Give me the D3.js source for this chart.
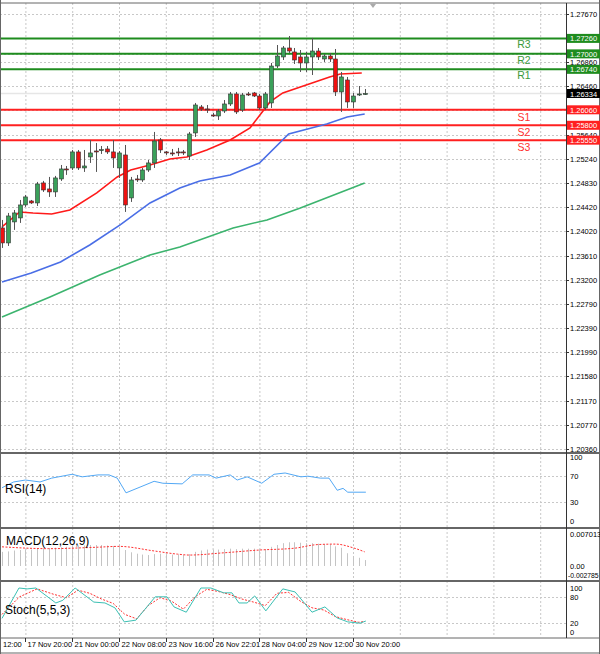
<!DOCTYPE html>
<html><head><meta charset="utf-8">
<script src="https://cdn.jsdelivr.net/npm/d3@7"></script>
<style>body{margin:0;background:#fff}svg{display:block;font-family:"Liberation Sans",Arial,sans-serif}</style>
</head><body><svg id="c" width="600" height="654"></svg>
<script>
// ---- DATA ----
const opens  = [1.24075,1.23823,1.24176,1.24243,1.24461,1.24528,1.24495,1.24831,1.24730,1.24680,1.24898,1.25066,1.25083,1.25352,1.25083,1.25268,1.25368,1.25385,1.25402,1.25352,1.25083,1.25301,1.24579,1.24898,1.24881,1.25049,1.25167,1.25553,1.25352,1.25335,1.25352,1.25352,1.25284,1.25671,1.26108,1.26074,1.25973,1.25956,1.26040,1.26158,1.26326,1.26057,1.26326,1.26343,1.26292,1.26091,1.26175,1.26796,1.26948,1.27099,1.27032,1.26948,1.26847,1.26948,1.27048,1.26914,1.26964,1.26914,1.26360,1.26561,1.26192,1.26309,1.26326];
const closes = [1.23823,1.24276,1.24327,1.24461,1.24596,1.24495,1.24814,1.24713,1.24680,1.24915,1.25066,1.25049,1.25352,1.25083,1.25116,1.25335,1.25360,1.25390,1.25352,1.25251,1.25335,1.24461,1.24881,1.24890,1.25049,1.25167,1.25536,1.25385,1.25335,1.25330,1.25345,1.25335,1.25654,1.26141,1.26074,1.26070,1.25956,1.26040,1.26158,1.26326,1.26024,1.26309,1.26320,1.26292,1.26091,1.26326,1.26796,1.26964,1.27099,1.27048,1.26897,1.26847,1.26948,1.27048,1.26948,1.26964,1.26914,1.26360,1.26612,1.26192,1.26292,1.26326,1.26334];
const highs  = [1.24209,1.24327,1.24377,1.24545,1.24629,1.24545,1.24848,1.24865,1.24932,1.24949,1.25133,1.25116,1.25385,1.25385,1.25385,1.25553,1.25502,1.25452,1.25452,1.25553,1.25368,1.25469,1.24932,1.24965,1.25083,1.25217,1.25688,1.25587,1.25368,1.25402,1.25420,1.25385,1.25688,1.26175,1.26141,1.26141,1.26007,1.26074,1.26225,1.26360,1.26360,1.26343,1.26360,1.26360,1.26326,1.26360,1.26847,1.27149,1.27132,1.27300,1.27099,1.27065,1.27032,1.27267,1.27099,1.26998,1.27015,1.27082,1.26696,1.26612,1.26343,1.26460,1.26410];
const lows   = [1.23739,1.23772,1.24042,1.24159,1.24428,1.24478,1.24444,1.24680,1.24596,1.24596,1.24865,1.24966,1.25049,1.25049,1.25016,1.25167,1.25016,1.25318,1.25318,1.25083,1.24915,1.24344,1.24512,1.24848,1.24848,1.25016,1.25083,1.25335,1.25301,1.25284,1.25284,1.25301,1.25217,1.25604,1.26040,1.26007,1.25940,1.25889,1.26007,1.26124,1.25990,1.26024,1.26292,1.26275,1.26057,1.26057,1.26091,1.26763,1.26897,1.27015,1.26830,1.26696,1.26696,1.26645,1.26897,1.26864,1.26864,1.26292,1.26024,1.26091,1.26091,1.26292,1.26309];
const maFastIdx = [0,3,5.3,8.5,11.6,16.2,19.7,22,25.3,28.7,31.6,35,39,42.4,45.8,48,52,56,57.8,61.5];
const maFast    = [1.24091,1.24343,1.24326,1.24310,1.24377,1.24663,1.24932,1.25049,1.25133,1.25234,1.25268,1.25385,1.25553,1.25755,1.26192,1.26343,1.26477,1.26612,1.26662,1.26679];
const maMidIdx  = [0,5,10,15,20.2,25.3,30.4,33.8,39,44,49,55.5,59,62];
const maMid     = [1.23168,1.23319,1.23504,1.23789,1.24125,1.24495,1.24747,1.24864,1.24965,1.25167,1.25654,1.25822,1.25940,1.25990];
const maSlowIdx = [0,8.2,16.7,25.3,30.4,39.5,45.3,51,62];
const maSlow    = [1.22580,1.22916,1.23285,1.23621,1.23756,1.24075,1.24209,1.24411,1.24831];
const levelNames  = ["R3","R2","R1","S1","S2","S3"];
const levelValues = [1.2726,1.2700,1.2674,1.2606,1.2580,1.2555];
const lastPrice = 1.26334;
const priceTicks = [1.27670,1.26860,1.26460,1.25640,1.25240,1.24830,1.24420,1.24020,1.23610,1.23200,1.22790,1.22390,1.21990,1.21580,1.21170,1.20770,1.20360];
const rsiIdx = [0,2,4,6.5,8.5,12,13.7,16.4,18.3,19.7,21.2,23.6,26,27.5,30.8,32.6,35.4,36.6,39,40.2,41.9,44.4,46.5,48.4,51.1,52.3,54.4,55.9,57.3,58.3,59.1,62.2];
const rsiVals = [52,61,64,61,67,73,69,72,72,67,44,53,62,59,58,72,72,67,72,64,69,59,73,75,69,70,67,67,48,51,45,45];
const macdHist = [0.0031,0.0032,0.0034,0.0035,0.0036,0.0036,0.0038,0.0039,0.0039,0.0040,0.0041,0.0042,0.0044,0.0045,0.0045,0.0046,0.0046,0.0046,0.0045,0.0044,0.0043,0.0035,0.0030,0.0027,0.0025,0.0024,0.0026,0.0027,0.0026,0.0025,0.0025,0.0024,0.0026,0.0031,0.0034,0.0036,0.0036,0.0036,0.0037,0.0038,0.0037,0.0038,0.0038,0.0038,0.0037,0.0037,0.0042,0.0046,0.0050,0.0052,0.0052,0.0051,0.0050,0.0050,0.0049,0.0048,0.0047,0.0043,0.0040,0.0028,0.0022,0.0018,0.0013];
const macdSigIdx = [0,8,16,20,26,30,32,38,44,50,54,57,60,62];
const macdSig    = [0.0042,0.0038,0.0041,0.0043,0.0033,0.0026,0.0024,0.0029,0.0035,0.0039,0.0047,0.0048,0.0040,0.0031];
const stoIdx = [0,2.9,4.3,5.8,9.2,10.4,12.5,15.7,17.6,19.3,20.9,22.9,26.2,28.2,29.4,31.5,34,35.7,37.9,39.3,40.5,41.9,43.2,45.1,48,50.1,53,55.2,57.3,59.1,61.2,62.2];
const stoMain = [31,100,98,100,66,72,100,68,66,55,23,27,80,80,57,45,100,100,89,89,66,66,82,48,98,91,45,57,32,23,20,25];
const stoSigIdx = [0,3,6,9,11,13,15,17,19,21,23,25,27,29,31,33,35,37,39,41,43,45,47,49,51,53,55,57,59,61,62];
const stoSig = [40,80,98,85,78,95,88,75,65,40,30,60,78,70,52,80,97,92,85,75,68,60,88,90,70,55,50,35,28,22,24];
const timeLabelIdx = [-4,4,12,20,28,36,44,52,60];
const timeLabels = ["12:00","17 Nov 20:00","21 Nov 00:00","22 Nov 08:00","23 Nov 16:00","26 Nov 22:01","28 Nov 04:00","29 Nov 12:00","30 Nov 20:00"];

// ---- DRAW ----
const svg = d3.select("#c");
const AX = 566;
const x = d3.scaleLinear().domain([0,62]).range([2,364.7]);
const y = d3.scaleLinear().domain([1.2036,1.2767]).range([449,14]);
const yR = d3.scaleLinear().domain([0,100]).range([521,457]);
const yM = d3.scaleLinear().domain([0,0.007013]).range([566,534]);
const yS = d3.scaleLinear().domain([0,100]).range([632,588]);
const panels = [[3,452],[453,527],[528,580],[581,637]];

svg.append("defs").append("clipPath").attr("id","pc").append("rect").attr("x",0).attr("y",0).attr("width",AX).attr("height",640);
const g = svg.append("g").attr("clip-path","url(#pc)");
const grid = "#c8c8c8";
timeLabelIdx.forEach(i=>{ if(i<0) return;
  panels.forEach(p=>g.append("line").attr("x1",x(i)+0.5).attr("x2",x(i)+0.5).attr("y1",p[0]).attr("y2",p[1]).attr("stroke",grid).attr("stroke-dasharray","2,2"));});
[68,76,84,92].forEach(i=>panels.forEach(p=>g.append("line").attr("x1",x(i)+0.5).attr("x2",x(i)+0.5).attr("y1",p[0]).attr("y2",p[1]).attr("stroke",grid).attr("stroke-dasharray","2,2")));
priceTicks.concat(levelValues).forEach(v=>g.append("line").attr("x1",0).attr("x2",AX).attr("y1",Math.round(y(v))+0.5).attr("y2",Math.round(y(v))+0.5).attr("stroke",grid).attr("stroke-dasharray","2,2"));
[70,30].forEach(v=>g.append("line").attr("x1",0).attr("x2",AX).attr("y1",Math.round(yR(v))+0.5).attr("y2",Math.round(yR(v))+0.5).attr("stroke",grid).attr("stroke-dasharray","2,2"));
[80,20].forEach(v=>g.append("line").attr("x1",0).attr("x2",AX).attr("y1",Math.round(yS(v))+0.5).attr("y2",Math.round(yS(v))+0.5).attr("stroke",grid).attr("stroke-dasharray","2,2"));

g.append("line").attr("x1",0).attr("x2",AX).attr("y1",y(lastPrice)).attr("y2",y(lastPrice)).attr("stroke","#e6e6e6").attr("stroke-width",1.5);
levelValues.forEach((v,i)=>{
  const col = i<3 ? "#1e8c1e" : "#ff2020";
  g.append("line").attr("x1",0).attr("x2",AX).attr("y1",y(v)).attr("y2",y(v)).attr("stroke",col).attr("stroke-width",2);
  svg.append("text").attr("x",524).attr("y",y(v)+(i<3?10:11)).attr("text-anchor","middle").attr("font-size",10.5).attr("fill",i<3?"#3c9a3c":"#ff3030").text(levelNames[i]);
});
const line = d3.line().x(d=>x(d[0])).y(d=>y(d[1]));
[[maSlowIdx,maSlow,"#3cb46e"],[maMidIdx,maMid,"#4a6ee6"],[maFastIdx,maFast,"#ff1a1a"]].forEach(([ix,v,c])=>
  g.append("path").attr("d",line(ix.map((d,k)=>[d,v[k]]))).attr("fill","none").attr("stroke",c).attr("stroke-width",1.6));
opens.forEach((o,i)=>{
  const c=closes[i], cx=Math.round(x(i))+0.5;
  g.append("line").attr("x1",cx).attr("x2",cx).attr("y1",y(highs[i])).attr("y2",y(lows[i])).attr("stroke","#555");
  const t=y(Math.max(o,c)), b=y(Math.min(o,c));
  g.append("rect").attr("x",cx-2).attr("y",t).attr("width",4).attr("height",Math.max(1,b-t))
   .attr("fill",c>o?"#3aa05a":(c<o?"#ee1111":"#333")).attr("stroke","#333").attr("stroke-width",0.6);
});
g.append("path").attr("d",d3.line().x(d=>x(d[0])).y(d=>yR(d[1]))(rsiIdx.map((d,k)=>[d,rsiVals[k]]))).attr("fill","none").attr("stroke","#52a8f5").attr("stroke-width",1);
macdHist.forEach((v,i)=>g.append("line").attr("x1",Math.round(x(i))+0.5).attr("x2",Math.round(x(i))+0.5).attr("y1",yM(0)).attr("y2",yM(v)).attr("stroke","#c4c4c4").attr("stroke-width",1));
g.append("path").attr("d",d3.line().curve(d3.curveMonotoneX).x(d=>x(d[0])).y(d=>yM(d[1]))(macdSigIdx.map((d,k)=>[d,macdSig[k]]))).attr("fill","none").attr("stroke","#ff3030").attr("stroke-width",1).attr("stroke-dasharray","2,1.5");
g.append("path").attr("d",d3.line().x(d=>x(d[0])).y(d=>yS(d[1]))(stoSigIdx.map((d,k)=>[d,stoSig[k]]))).attr("fill","none").attr("stroke","#ff3030").attr("stroke-width",1).attr("stroke-dasharray","2,1.5");
g.append("path").attr("d",d3.line().x(d=>x(d[0])).y(d=>yS(d[1]))(stoIdx.map((d,k)=>[d,stoMain[k]]))).attr("fill","none").attr("stroke","#3cc0b4").attr("stroke-width",1);

svg.append("text").attr("x",5).attr("y",493).attr("font-size",12).text("RSI(14)");
svg.append("text").attr("x",6).attr("y",545).attr("font-size",12).text("MACD(12,26,9)");
svg.append("text").attr("x",5).attr("y",614).attr("font-size",12).text("Stoch(5,5,3)");
svg.append("path").attr("d","M370,4L376,4L373,8Z").attr("fill","#aaa");

panels.forEach(p=>svg.append("line").attr("x1",0).attr("x2",600).attr("y1",p[0]).attr("y2",p[0]).attr("stroke","#666").attr("stroke-width",p[0]===3?1:2));
svg.append("line").attr("x1",0).attr("x2",600).attr("y1",638).attr("y2",638).attr("stroke","#666").attr("stroke-width",1);
svg.append("line").attr("x1",0).attr("x2",600).attr("y1",653).attr("y2",653).attr("stroke","#666").attr("stroke-width",1);
svg.append("line").attr("x1",AX+0.5).attr("x2",AX+0.5).attr("y1",3).attr("y2",638).attr("stroke","#333");
svg.append("line").attr("x1",599.5).attr("x2",599.5).attr("y1",0).attr("y2",654).attr("stroke","#666");
svg.append("line").attr("x1",0.5).attr("x2",0.5).attr("y1",0).attr("y2",654).attr("stroke","#666");

const fs=7.5;
priceTicks.forEach(v=>{
  svg.append("line").attr("x1",AX).attr("x2",AX+3).attr("y1",Math.round(y(v))+0.5).attr("y2",Math.round(y(v))+0.5).attr("stroke","#333");
  svg.append("text").attr("x",570).attr("y",y(v)+3).attr("font-size",fs).text(v.toFixed(5));
});
levelValues.forEach((v,i)=>{
  svg.append("rect").attr("x",AX+1).attr("y",y(v)-4.5).attr("width",33).attr("height",9).attr("fill",i<3?"#1e8c1e":"#ff2020");
  svg.append("text").attr("x",570).attr("y",y(v)+3).attr("font-size",fs).attr("fill","#fff").text(v.toFixed(5));
});
svg.append("rect").attr("x",AX+1).attr("y",y(lastPrice)-4.5).attr("width",33).attr("height",9).attr("fill","#000");
svg.append("text").attr("x",570).attr("y",y(lastPrice)+3).attr("font-size",fs).attr("fill","#fff").text(lastPrice.toFixed(5));
[[100,"100"],[70,"70"],[30,"30"],[0,"0"]].forEach(([v,t])=>svg.append("text").attr("x",570).attr("y",yR(v)+3).attr("font-size",fs).text(t));
[[0.007013,"0.007013"],[0,"0.00"]].forEach(([v,t])=>svg.append("text").attr("x",570).attr("y",yM(v)+3).attr("font-size",fs).text(t));
svg.append("text").attr("x",568).attr("y",578).attr("font-size",6.8).text("-0.002785");
[[100,"100"],[80,"80"],[20,"20"],[0,"0"]].forEach(([v,t])=>svg.append("text").attr("x",570).attr("y",yS(v)+3).attr("font-size",fs).text(t));

timeLabelIdx.forEach((i,k)=>{
  const xx=Math.round(x(i))+0.5;
  if(i>=0) svg.append("line").attr("x1",xx).attr("x2",xx).attr("y1",638).attr("y2",642).attr("stroke","#333");
  svg.append("text").attr("x",i<0?3:xx+2).attr("y",647).attr("font-size",fs).text(timeLabels[k]);
});
</script></body></html>
